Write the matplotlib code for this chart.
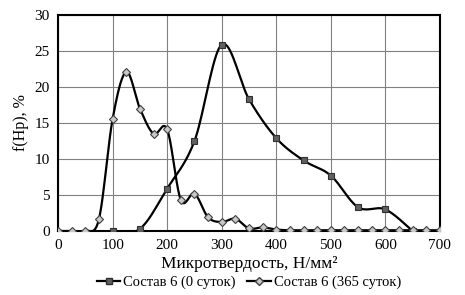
import numpy as np
import matplotlib.pyplot as plt

plt.rcParams['font.family'] = ['Liberation Serif', 'DejaVu Serif']

# Состав 6 (0 суток)
x0 = [100, 150, 200, 250, 300, 350, 400, 450, 500, 550, 600, 650]
y0 = [0, 0.3, 5.9, 12.5, 25.9, 18.3, 12.9, 9.8, 7.7, 3.3, 3.0, 0]

# Состав 6 (365 суток)
x365 = [0, 25, 50, 75, 100, 125, 150, 175, 200, 225, 250, 275, 300, 325, 350,
        375, 400, 425, 450, 475, 500, 525, 550, 575, 600, 625, 650, 675, 700]
y365 = [0, 0, 0, 1.7, 15.6, 22.1, 17.0, 13.5, 14.1, 4.3, 5.2, 1.9, 1.25, 1.7, 0.35,
        0.5, 0.2, 0.1, 0.1, 0.1, 0.1, 0.1, 0.1, 0.1, 0.1, 0.1, 0.1, 0.1, 0.1]


def smooth(xs, ys, n=20):
    # сглаженная линия как в Excel (Catmull-Rom через Безье)
    p = np.column_stack([xs, ys]).astype(float)
    out = []
    for i in range(len(p) - 1):
        p0 = p[i - 1] if i > 0 else p[i]
        p1, p2 = p[i], p[i + 1]
        p3 = p[i + 2] if i + 2 < len(p) else p[i + 1]
        c1 = p1 + (p2 - p0) / 6
        c2 = p2 - (p3 - p1) / 6
        t = np.linspace(0, 1, n)[:, None]
        seg = (1 - t) ** 3 * p1 + 3 * (1 - t) ** 2 * t * c1 + 3 * (1 - t) * t ** 2 * c2 + t ** 3 * p2
        out.append(seg)
    s = np.vstack(out)
    return s[:, 0], s[:, 1]


fig = plt.figure(figsize=(4.65, 2.95), dpi=100)
ax = fig.add_axes([0.125, 0.217, 0.821, 0.732])

sx, sy = smooth(x0, y0)
ax.plot(sx, sy, color='black', lw=1.6, zorder=3)
ax.plot(x0, y0, ls='none', marker='s', ms=5, mfc='#606060', mec='#303030', mew=0.8, zorder=4)

sx, sy = smooth(x365, y365)
ax.plot(sx, sy, color='black', lw=1.6, zorder=3)
ax.plot(x365, y365, ls='none', marker='D', ms=4.5, mfc='#c8c8c8', mec='#404040', mew=0.8, zorder=4)

# легенда
ax.plot([], [], color='black', lw=1.6, marker='s', ms=5, mfc='#606060', mec='#303030',
        label='Состав 6 (0 суток)')
ax.plot([], [], color='black', lw=1.6, marker='D', ms=4.5, mfc='#c8c8c8', mec='#404040',
        label='Состав 6 (365 суток)')

ax.set_xlim(0, 700)
ax.set_ylim(0, 30)
ax.set_xticks(range(0, 701, 100))
ax.set_yticks(range(0, 31, 5))
ax.tick_params(length=0, labelsize=11, pad=6)
ax.grid(True, color='#808080', lw=0.8)
ax.set_axisbelow(True)
for s in ax.spines.values():
    s.set_linewidth(1.5)
    s.set_color('black')

ax.set_xlabel('Микротвердость, Н/мм²', fontsize=12.5, labelpad=3)
ax.set_ylabel('f(Hp), %', fontsize=11.5, labelpad=4)
ax.legend(loc='center', bbox_to_anchor=(0.5, -0.237), ncol=2, frameon=False,
          fontsize=10.5, handlelength=1.6, handletextpad=0.2, columnspacing=0.8,
          borderpad=0, borderaxespad=0)

fig.savefig('out.png', dpi=100)
